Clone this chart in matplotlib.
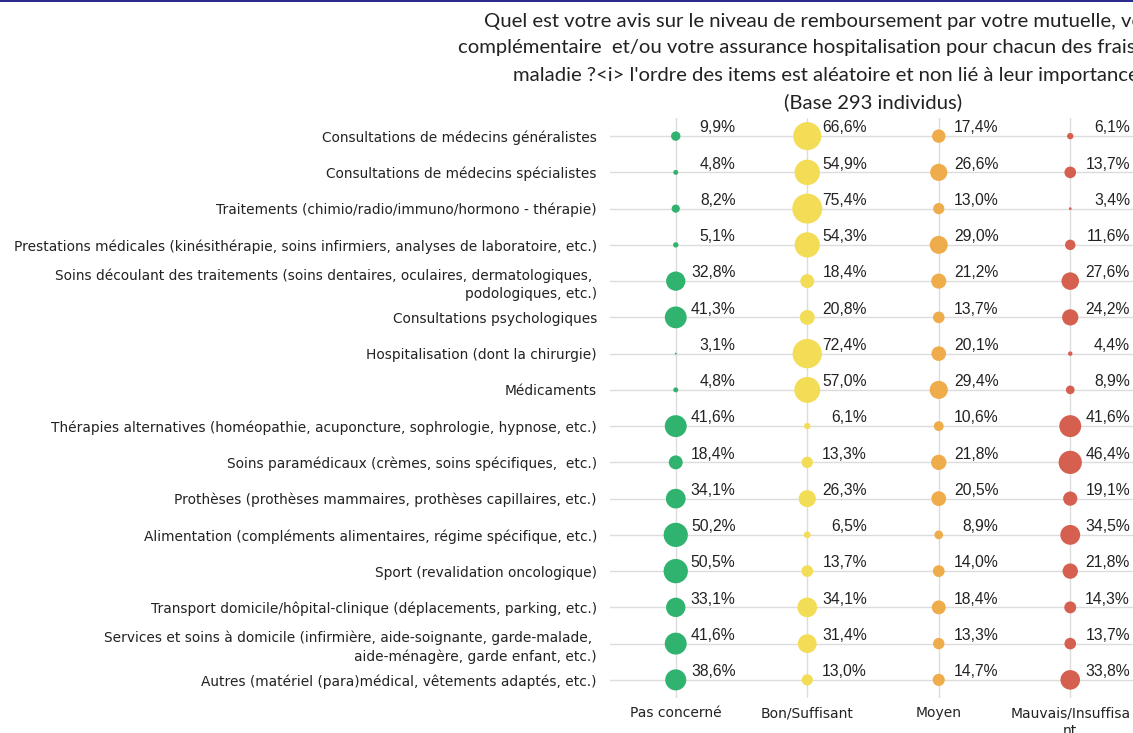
import matplotlib
matplotlib.use("Agg")
import matplotlib.pyplot as plt
from matplotlib.patches import Rectangle
import numpy as np

categories = [
    "Consultations de médecins généralistes",
    "Consultations de médecins spécialistes",
    "Traitements (chimio/radio/immuno/hormono - thérapie)",
    "Prestations médicales (kinésithérapie, soins infirmiers, analyses de laboratoire, etc.)",
    "Soins découlant des traitements (soins dentaires, oculaires, dermatologiques, \npodologiques, etc.)",
    "Consultations psychologiques",
    "Hospitalisation (dont la chirurgie)",
    "Médicaments",
    "Thérapies alternatives (homéopathie, acuponcture, sophrologie, hypnose, etc.)",
    "Soins paramédicaux (crèmes, soins spécifiques,  etc.)",
    "Prothèses (prothèses mammaires, prothèses capillaires, etc.)",
    "Alimentation (compléments alimentaires, régime spécifique, etc.)",
    "Sport (revalidation oncologique)",
    "Transport domicile/hôpital-clinique (déplacements, parking, etc.)",
    "Services et soins à domicile (infirmière, aide-soignante, garde-malade, \naide-ménagère, garde enfant, etc.)",
    "Autres (matériel (para)médical, vêtements adaptés, etc.)",
]

columns = ["Pas concerné", "Bon/Suffisant", "Moyen", "Mauvais/Insuffisa\nnt"]

pas_concerne = [9.9, 4.8, 8.2, 5.1, 32.8, 41.3, 3.1, 4.8, 41.6, 18.4, 34.1, 50.2, 50.5, 33.1, 41.6, 38.6]
bon_suffisant = [66.6, 54.9, 75.4, 54.3, 18.4, 20.8, 72.4, 57.0, 6.1, 13.3, 26.3, 6.5, 13.7, 34.1, 31.4, 13.0]
moyen = [17.4, 26.6, 13.0, 29.0, 21.2, 13.7, 20.1, 29.4, 10.6, 21.8, 20.5, 8.9, 14.0, 18.4, 13.3, 14.7]
mauvais = [6.1, 13.7, 3.4, 11.6, 27.6, 24.2, 4.4, 8.9, 41.6, 46.4, 19.1, 34.5, 21.8, 14.3, 13.7, 33.8]

series = [pas_concerne, bon_suffisant, moyen, mauvais]
colors = ["#2fb36e", "#f4dd56", "#efac4b", "#d5604f"]

title_lines = [
    "Quel est votre avis sur le niveau de remboursement par votre mutuelle, votre assurance",
    "complémentaire  et/ou votre assurance hospitalisation pour chacun des frais liés à votre",
    "maladie ?<i> l'ordre des items est aléatoire et non lié à leur importance</i>",
    "(Base 293 individus)",
]

W, H = 1133, 733
fig = plt.figure(figsize=(W / 100, H / 100), dpi=100)
ax_left, ax_right, ax_top, ax_bottom = 610, 1136, 118, 698
ax = fig.add_axes([ax_left / W, 1 - ax_bottom / H, (ax_right - ax_left) / W, (ax_bottom - ax_top) / H])

n = len(categories)
ys = np.arange(n)
for j, (vals, col) in enumerate(zip(series, colors)):
    vals = np.array(vals)
    sizes = np.clip(6.42 * (vals - 2.8), 1.0, None)
    ax.scatter(np.full(n, j), ys, s=sizes, color=col, linewidths=0, zorder=3, clip_on=False)
    for y, v in zip(ys, vals):
        ax.annotate(f"{v:.1f}".replace(".", ",") + "%", (j, y), xytext=(43, 6),
                    textcoords="offset points", ha="right", va="center",
                    fontsize=11.3, family="Liberation Sans", color="#222222",
                    annotation_clip=False)

ax.set_xlim(-0.5, 3.5)
ax.set_ylim(n - 0.5, -0.5)
ax.set_xticks(range(4))
ax.set_xticklabels(columns, family="DejaVu Sans", fontsize=10, color="#222222", linespacing=1.3)
ax.set_yticks(ys)
ax.set_yticklabels(categories, family="DejaVu Sans", fontsize=9.9, color="#222222", linespacing=1.35)
for lbl in ax.get_yticklabels():
    if "\n" in lbl.get_text():
        lbl.set_va("center_baseline")
ax.tick_params(axis="both", length=0)
ax.tick_params(axis="y", pad=9.4)
ax.tick_params(axis="x", pad=6)
for s in ax.spines.values():
    s.set_visible(False)
ax.grid(True, color="#dcdcdc", linewidth=1.0, zorder=0)
ax.set_axisbelow(True)

starts = [484, 458, 513]
yc = [21, 47, 75, 102]
for i in range(3):
    fig.text(starts[i] / W, 1 - yc[i] / H, title_lines[i], ha="left", va="center",
             fontsize=14.6, family="Lato", color="#222222")
fig.text(873 / W, 1 - yc[3] / H, title_lines[3], ha="center", va="center",
         fontsize=14.6, family="Lato", color="#222222")

fig.add_artist(Rectangle((0, 1 - 2 / H), 1, 2 / H, transform=fig.transFigure,
                         color="#2b2b8c", lw=0))

fig.savefig("out.png", dpi=100)
